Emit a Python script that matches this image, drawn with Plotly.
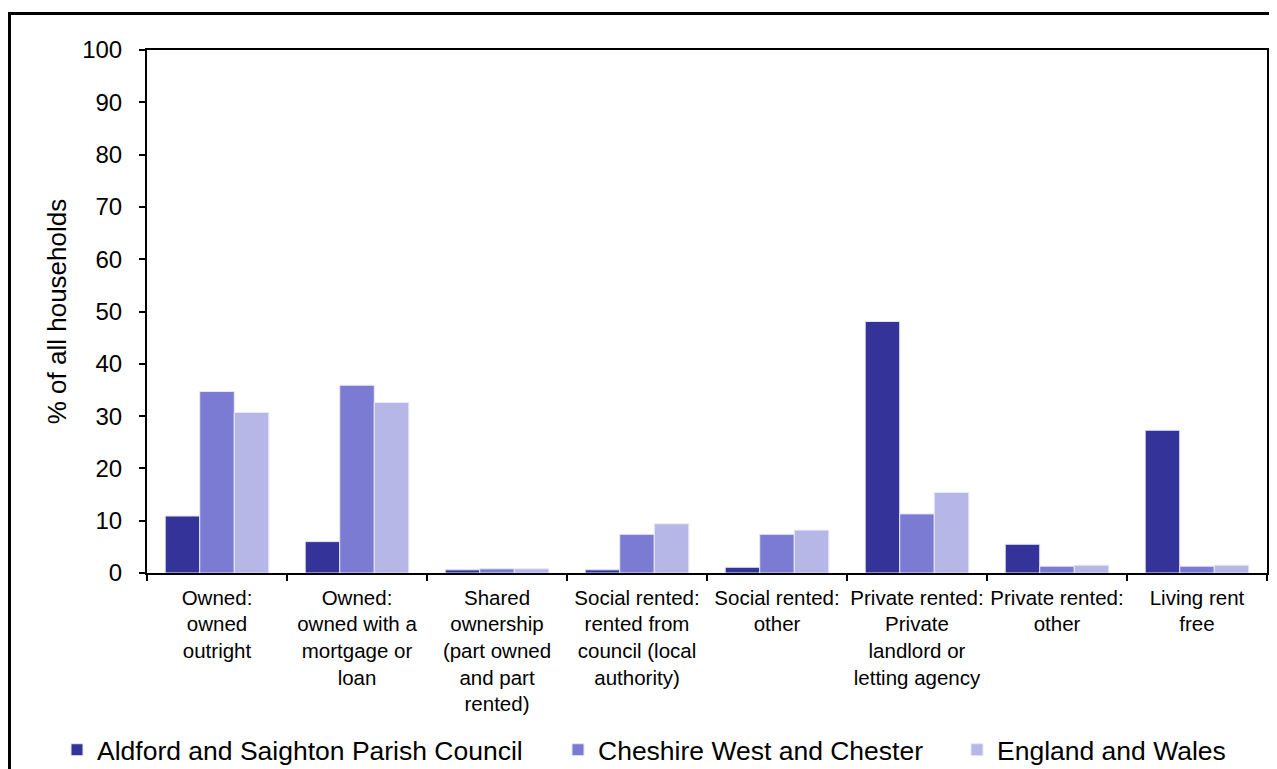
import plotly.graph_objects as go

categories = [
    "Owned:<br>owned<br>outright",
    "Owned:<br>owned with a<br>mortgage or<br>loan",
    "Shared<br>ownership<br>(part owned<br>and part<br>rented)",
    "Social rented:<br>rented from<br>council (local<br>authority)",
    "Social rented:<br>other",
    "Private rented:<br>Private<br>landlord or<br>letting agency",
    "Private rented:<br>other",
    "Living rent<br>free",
]
series_names = ["Aldford and Saighton Parish Council", "Cheshire West and Chester", "England and Wales"]
aldford = [10.9, 6.0, 0.6, 0.6, 1.1, 48.1, 5.5, 27.3]
cheshire = [34.7, 35.9, 0.8, 7.4, 7.4, 11.3, 1.3, 1.3]
england = [30.7, 32.6, 0.8, 9.4, 8.2, 15.4, 1.5, 1.5]
y_ticks = [0, 10, 20, 30, 40, 50, 60, 70, 80, 90, 100]

colors = ["#333399", "#7B7BD3", "#B6B6E7"]
FONT = "Liberation Sans, Arial, sans-serif"

W, H = 1277, 769
L, R, T, B = 139, 18, 42, 204
pw, ph = W - L - R, H - T - B

def px(xp):
    return (xp - L) / pw

def py(yp):
    return (H - B - yp) / ph

legend_ids = ["legend", "legend2", "legend3"]
fig = go.Figure()
for i, (name, vals) in enumerate(zip(series_names, [aldford, cheshire, england])):
    fig.add_trace(go.Bar(
        x=categories, y=vals, name=name,
        marker=dict(color=colors[i], line=dict(color="#E8E8F8", width=1)),
        legend=legend_ids[i],
    ))

leg_common = dict(orientation="h", yanchor="middle", xanchor="left",
                  xref="container", yref="container",
                  font=dict(family=FONT, size=26.5, color="black"),
                  bgcolor="rgba(0,0,0,0)", itemclick=False, itemdoubleclick=False)
leg_y = 1 - 742 / H

fig.update_layout(
    width=W, height=H,
    margin=dict(l=L, r=R, t=T, b=B, autoexpand=False),
    paper_bgcolor="white", plot_bgcolor="white",
    barmode="group", bargap=0.26, bargroupgap=0,
    font=dict(family=FONT, color="black"),
    showlegend=True,
    legend=dict(x=49 / W, y=leg_y, **leg_common),
    legend2=dict(x=550 / W, y=leg_y, **leg_common),
    legend3=dict(x=949 / W, y=leg_y, **leg_common),
    xaxis=dict(
        showline=True, linecolor="black", linewidth=2, mirror=True,
        ticks="outside", tickson="boundaries", ticklen=6, tickwidth=1.5, tickcolor="black",
        tickfont=dict(family=FONT, size=20.5, color="black"),
        ticklabelstandoff=5,
        tickangle=0, automargin=False,
        showgrid=False,
    ),
    yaxis=dict(
        range=[0, 100], tickvals=y_ticks, ticktext=[str(v) for v in y_ticks],
        showline=True, linecolor="black", linewidth=2, mirror=True,
        ticks="outside", ticklen=6, tickwidth=1.5, tickcolor="black",
        tickfont=dict(family=FONT, size=24, color="black"),
        ticklabelstandoff=12, automargin=False,
        showgrid=False, zeroline=False,
        title=dict(text="% of all households", font=dict(family=FONT, size=26, color="black"), standoff=8),
    ),
)

# outer chart border
fig.add_shape(type="rect", xref="paper", yref="paper",
              x0=px(1.5), x1=px(1300), y0=py(800), y1=py(5.5),
              line=dict(color="black", width=3), fillcolor="rgba(0,0,0,0)", layer="below")

fig.write_html("out.html")
